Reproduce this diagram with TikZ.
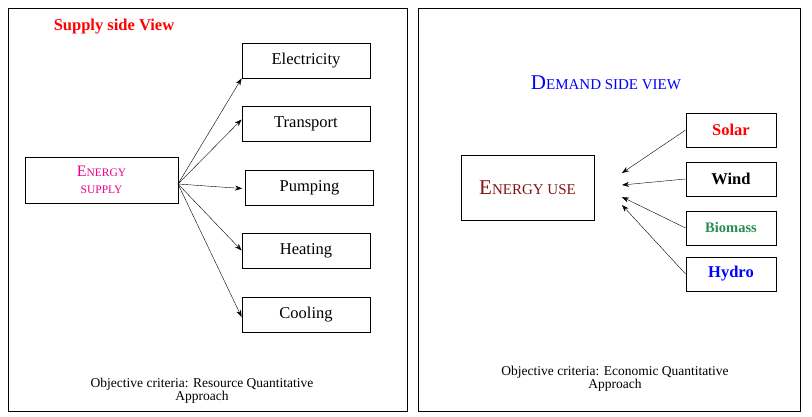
\documentclass[tikz,border=0pt]{standalone}
\usepackage{fontspec}
\setmainfont{Liberation Serif}
\usetikzlibrary{arrows.meta}
\definecolor{grn}{RGB}{40,140,80}
\definecolor{dred}{RGB}{130,20,20}
\newcommand{\mysc}[2]{#1{\fontsize{#2}{#2}\selectfont}}
\begin{document}
\begin{tikzpicture}[x=1pt,y=-1pt,
  box/.style={draw,thick,minimum width=128pt,minimum height=35pt,font=\fontsize{16.5}{18}\selectfont},
  sbox/.style={draw,thick,minimum width=90pt,minimum height=34pt,font=\bfseries\fontsize{16.5}{18}\selectfont},
  arr/.style={-{Stealth[length=7pt,width=5pt]},thin},
  foot/.style={font=\fontsize{13.5}{13}\selectfont,align=center}]
\useasboundingbox (0,0) rectangle (812,416);
\node[draw,thick,minimum width=399pt,minimum height=403pt] (L) at (207.5,209.5) {};
\node[draw,thick,minimum width=382pt,minimum height=403pt] (R) at (609,209.5) {};
\node[text=red,font=\bfseries\fontsize{16.5}{18}\selectfont] (st) at (114,27) {Supply side View};
\node[draw,thick,minimum width=153pt,minimum height=46pt,text=magenta,font=\fontsize{16}{16}\selectfont,align=center] (es) at (101.5,180) {E{\fontsize{11.5}{11.5}\selectfont NERGY}\\[1pt]{\fontsize{11.5}{11.5}\selectfont SUPPLY}};
\node[box] (el) at (306,60.5) {Electricity};
\node[box] (tr) at (306,123.5) {Transport};
\node[box] (pu) at (309.5,187.5) {Pumping};
\node[box] (he) at (306,250.5) {Heating};
\node[box] (co) at (306,315) {Cooling};
\coordinate (o) at (178,184);
\draw[arr] (o) -- (el.south west);
\draw[arr] (o) -- ([yshift=4pt]tr.west);
\draw[arr] (o) -- ([xshift=-3pt,yshift=-1pt]pu.west);
\draw[arr] (o) -- (he.west);
\draw[arr] (o) -- ([yshift=-2pt]co.west);
\node[foot] (lf) at (202,391) {Objective criteria: Resource Quantitative\\Approach};
\node[text=blue,font=\fontsize{21}{21}\selectfont] (dt) at (606,83) {D{\fontsize{15}{15}\selectfont EMAND SIDE VIEW}};
\node[draw,thick,minimum width=133pt,minimum height=65pt,text=dred,font=\fontsize{21}{21}\selectfont] (eu) at (527.5,187.5) {E{\fontsize{15}{15}\selectfont NERGY USE}};
\node[sbox,text=red] (so) at (731,130) {Solar};
\node[sbox] (wi) at (731,179) {Wind};
\node[sbox,text=grn,font=\bfseries\fontsize{14.5}{16}\selectfont] (bi) at (731,228) {Biomass};
\node[sbox,text=blue] (hy) at (731,274) {Hydro};
\coordinate (a1) at (622,173);
\coordinate (a2) at (622,185);
\coordinate (a3) at (622,197);
\coordinate (a4) at (622,205);
\draw[arr] (so.west) -- (a1);
\draw[arr] (wi.west) -- (a2);
\draw[arr] (bi.west) -- (a3);
\draw[arr] (hy.west) -- (a4);
\node[foot] (rf) at (615,379) {Objective criteria: Economic Quantitative\\Approach};
\end{tikzpicture}
\end{document}
